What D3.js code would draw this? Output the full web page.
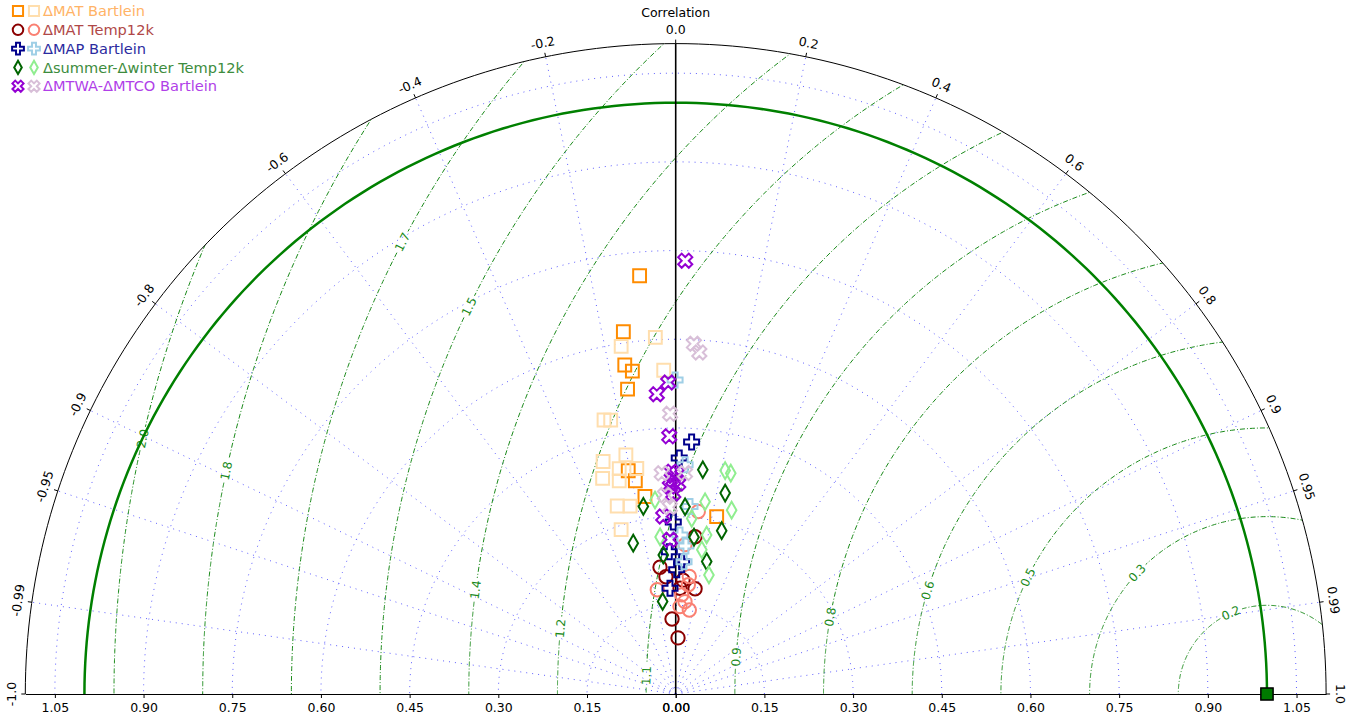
<!DOCTYPE html>
<html>
<head>
<meta charset="utf-8">
<script src="https://cdn.jsdelivr.net/npm/d3@7"></script>
<style>
  body { margin: 0; background: #fff; }
  text { font-family: "DejaVu Sans", sans-serif; }
</style>
</head>
<body>
<svg id="chart" width="1359" height="718"></svg>
<script>
// ---- data (std dev normalised, correlation) ----
const corrTicks = [-1.0, -0.99, -0.95, -0.9, -0.8, -0.6, -0.4, -0.2, 0.0, 0.2, 0.4, 0.6, 0.8, 0.9, 0.95, 0.99, 1.0];
const corrTickLabels = ["-1.0", "-0.99", "-0.95", "-0.9", "-0.8", "-0.6", "-0.4", "-0.2", "0.0", "0.2", "0.4", "0.6", "0.8", "0.9", "0.95", "0.99", "1.0"];
const stdTicks = [0, 0.15, 0.30, 0.45, 0.60, 0.75, 0.90, 1.05];
const rmsLevels = [0.15, 0.30, 0.45, 0.60, 0.75, 0.90, 1.05, 1.20, 1.35, 1.50, 1.65, 1.80, 1.95];
const rmsLabels = ["0.2", "0.3", "0.5", "0.6", "0.8", "0.9", "1.1", "1.2", "1.4", "1.5", "1.7", "1.8", "2.0"];
const refStd = 1.0;
const stdMax = 1.1;

const seriesNames = ["ΔMAT Bartlein", "ΔMAT Temp12k", "ΔMAP Bartlein", "Δsummer-Δwinter Temp12k", "ΔMTWA-ΔMTCO Bartlein"];

const matBartleinStd = [0.710, 0.619, 0.563, 0.551, 0.522, 0.386, 0.367, 0.338, 0.308];
const matBartleinCor = [-0.086, -0.143, -0.153, -0.133, -0.156, -0.208, -0.186, -0.154, 0.225];
const matBartleinAltStd = [0.604, 0.595, 0.548, 0.479, 0.476, 0.412, 0.413, 0.393, 0.387, 0.385, 0.373, 0.333, 0.327, 0.293];
const matBartleinAltCor = [-0.057, -0.155, -0.037, -0.253, -0.231, -0.298, -0.204, -0.243, -0.170, -0.321, -0.256, -0.297, -0.236, -0.315];

const matTempStd = [0.216, 0.199, 0.268, 0.193, 0.181, 0.179, 0.127, 0.095];
const matTempCor = [-0.123, -0.083, 0.122, 0.064, 0.181, 0.041, -0.049, 0.041];
const matTempAltStd = [0.311, 0.253, 0.179, 0.200, 0.186, 0.168, 0.157, 0.148, 0.144];
const matTempAltCor = [0.123, 0.062, -0.174, 0.115, 0.115, 0.061, 0.100, 0.049, 0.160];

const mapStd = [0.427, 0.399, 0.291, 0.241, 0.224, 0.210, 0.179];
const mapCor = [0.063, 0.015, -0.014, -0.045, 0.045, 0.008, -0.054];
const mapAltStd = [0.531, 0.388, 0.318, 0.269, 0.251, 0.224];
const mapAltCor = [-0.002, 0.041, 0.076, 0.027, 0.069, 0.063];

const seasStd = [0.382, 0.350, 0.322, 0.317, 0.265, 0.287, 0.230, 0.236, 0.158, 0.267];
const seasCor = [0.120, 0.239, -0.170, 0.050, -0.271, 0.271, 0.228, -0.089, -0.140, 0.116];
const seasAltStd = [0.387, 0.385, 0.329, 0.325, 0.330, 0.267, 0.298, 0.248, 0.274, 0.209];
const seasAltCor = [0.216, 0.242, 0.151, 0.291, -0.106, -0.099, 0.091, 0.178, 0.191, 0.269];

const mtwaStd = [0.733, 0.527, 0.508, 0.436, 0.376, 0.373, 0.362, 0.356, 0.351, 0.339, 0.301, 0.261];
const mtwaCor = [0.022, -0.024, -0.063, -0.025, -0.018, 0.005, -0.011, 0.012, -0.028, -0.012, -0.070, -0.037];
const mtwaAltStd = [0.593, 0.579, 0.474, 0.374, 0.374, 0.337, 0.316];
const mtwaAltCor = [0.052, 0.069, -0.020, -0.063, 0.042, -0.054, -0.031];

// ---- layout / styles ----
const svg = d3.select("#chart");
const cx = 675.7, cy = 694, R = 650.4;

const xs = d3.scaleLinear().domain([-stdMax, stdMax]).range([cx - R, cx + R]);
const ys = d3.scaleLinear().domain([0, stdMax]).range([cy, cy - R]);
const rs = d3.scaleLinear().domain([0, stdMax]).range([0, R]);

const polar = (s, c) => {
    let t = Math.acos(c);
    return [xs(s * Math.cos(t)), ys(s * Math.sin(t))];
};
const arcPts = (s, a0, a1) => d3.range(a0, a1 + 0.001, (a1 - a0) / 180).map(a => [xs(s * Math.cos(a)), ys(s * Math.sin(a))]);
const line = d3.line();

const styles = [
    {sym: d3.symbolSquare, size: 165, dark: "#ff8c00", light: "#ffdead", text: "#ffb366"},
    {sym: d3.symbolCircle, size: 140, dark: "#8b0000", light: "#fa8072", text: "#b04848"},
    {sym: d3.symbolCross, size: 125, dark: "#00008b", light: "#9fcfe6", text: "#2b2ba0"},
    {sym: d3.symbolDiamond, size: 80, dark: "#006400", light: "#90ee90", text: "#3d8c3d"},
    {sym: d3.symbolCross, size: 125, rot: 45, dark: "#9400d3", light: "#d8bfd8", text: "#b040e8"}
];
const seriesData = [
    [[matBartleinStd, matBartleinCor], [matBartleinAltStd, matBartleinAltCor]],
    [[matTempStd, matTempCor], [matTempAltStd, matTempAltCor]],
    [[mapStd, mapCor], [mapAltStd, mapAltCor]],
    [[seasStd, seasCor], [seasAltStd, seasAltCor]],
    [[mtwaStd, mtwaCor], [mtwaAltStd, mtwaAltCor]]
];
// angle (deg, around reference point) where each rms label sits
const rmsLabelAngle = [114, 137, 154, 163, 170, 176, 178.3, 174.7, 172.5, 154.1, 152.4, 167.9, 167.2];

// clip for contours
svg.append("clipPath").attr("id", "half")
    .append("path")
    .attr("d", line(arcPts(stdMax, 0, Math.PI)) + "Z");

// std grid arcs + correlation rays
let grid = svg.append("g").attr("fill", "none").attr("stroke", "#3a3aff")
    .attr("stroke-width", 1).attr("stroke-dasharray", "1,5").attr("opacity", 0.8);
grid.selectAll("path.s").data(stdTicks.filter(d => d > 0)).enter().append("path")
    .attr("d", d => line(arcPts(d, 0, Math.PI)));
grid.selectAll("line.c").data(corrTicks.filter(d => Math.abs(d) < 1 && d !== 0)).enter().append("line")
    .attr("x1", cx).attr("y1", cy)
    .attr("x2", d => polar(stdMax, d)[0]).attr("y2", d => polar(stdMax, d)[1]);

// rms contours
let rmsG = svg.append("g").attr("clip-path", "url(#half)");
rmsLevels.forEach((L, i) => {
    let phi = rmsLabelAngle[i] * Math.PI / 180;
    let gap = 12 / rs(L);
    let pts = (a0, a1) => d3.range(a0, a1 + 0.0005, (a1 - a0) / 200)
        .map(a => [xs(refStd + L * Math.cos(a)), ys(L * Math.sin(a))]);
    [[0, phi - gap], [phi + gap, Math.PI]].forEach(seg => {
        rmsG.append("path")
            .attr("d", line(pts(seg[0], seg[1])))
            .attr("fill", "none").attr("stroke", "#1a8a1a").attr("stroke-width", 1)
            .attr("stroke-dasharray", "5,2,1,2");
    });
});
rmsLevels.forEach((L, i) => {
    let phi = rmsLabelAngle[i] * Math.PI / 180;
    svg.append("text")
        .attr("transform", `translate(${xs(refStd + L * Math.cos(phi))},${ys(L * Math.sin(phi))}) rotate(${90 - rmsLabelAngle[i]})`)
        .attr("text-anchor", "middle").attr("dy", "0.35em")
        .attr("font-size", 12).attr("fill", "#1a8a1a")
        .text(rmsLabels[i]);
});

// reference std arc
svg.append("path").attr("d", line(arcPts(refStd, 0, Math.PI)))
    .attr("fill", "none").attr("stroke", "#008000").attr("stroke-width", 2.5);

// outer arc, zero line
svg.append("path").attr("d", line(arcPts(stdMax, 0, Math.PI)))
    .attr("fill", "none").attr("stroke", "#000").attr("stroke-width", 1);
svg.append("line").attr("x1", cx).attr("y1", cy).attr("x2", xs(0)).attr("y2", ys(stdMax))
    .attr("stroke", "#000").attr("stroke-width", 1.6);

// correlation ticks + labels
corrTicks.forEach((c, i) => {
    let t = Math.acos(c);
    let deg = t * 180 / Math.PI;
    svg.append("line")
        .attr("x1", cx + R * Math.cos(t)).attr("y1", cy - R * Math.sin(t))
        .attr("x2", cx + (R + 4) * Math.cos(t)).attr("y2", cy - (R + 4) * Math.sin(t))
        .attr("stroke", "#000");
    svg.append("text")
        .attr("transform", `translate(${cx + (R + 14) * Math.cos(t)},${cy - (R + 14) * Math.sin(t)}) rotate(${90 - deg})`)
        .attr("text-anchor", "middle").attr("dy", "0.35em").attr("font-size", 12.5)
        .text(corrTickLabels[i]);
});
svg.append("text").attr("x", cx).attr("y", 17).attr("text-anchor", "middle")
    .attr("font-size", 12.5).text("Correlation");

// std axis (both sides)
let rightScale = d3.scaleLinear().domain([0, stdMax]).range([cx, cx + R]);
let leftScale = d3.scaleLinear().domain([0, stdMax]).range([cx, cx - R]);
[rightScale, leftScale].forEach(sc => {
    let ax = svg.append("g").attr("transform", `translate(0,${cy})`)
        .call(d3.axisBottom(sc).tickValues(stdTicks).tickFormat(d3.format(".2f")).tickSize(4).tickSizeOuter(0).tickPadding(5));
    ax.selectAll("text").attr("font-size", 12.5).attr("font-family", "DejaVu Sans, sans-serif");
    ax.select(".domain").attr("stroke-width", 1.2);
});

// points
seriesData.forEach((pair, k) => {
    let st = styles[k];
    let sym = d3.symbol().type(st.sym).size(st.size);
    pair.forEach((ser, j) => {
        let pts = ser[0].map((s, n) => polar(s, ser[1][n]));
        svg.append("g").selectAll("path").data(pts).enter().append("path")
            .attr("d", sym)
            .attr("transform", d => `translate(${d[0]},${d[1]})` + (st.rot ? ` rotate(${st.rot})` : ""))
            .attr("fill", "none")
            .attr("stroke", j === 0 ? st.dark : st.light)
            .attr("stroke-width", 2);
    });
});

// reference point
svg.append("path").attr("d", d3.symbol().type(d3.symbolSquare).size(150))
    .attr("transform", `translate(${xs(refStd)},${ys(0)})`)
    .attr("fill", "#007a00").attr("stroke", "#000").attr("stroke-width", 1.5);

// legend
let leg = svg.append("g");
seriesNames.forEach((name, k) => {
    let st = styles[k];
    let y = 11 + k * 18.8;
    let sym = d3.symbol().type(st.sym).size(st.size * 0.62);
    [st.dark, st.light].forEach((col, j) => {
        leg.append("path").attr("d", sym)
            .attr("transform", `translate(${18 + j * 16},${y})` + (st.rot ? ` rotate(${st.rot})` : ""))
            .attr("fill", "none").attr("stroke", col).attr("stroke-width", 2);
    });
    leg.append("text").attr("x", 43).attr("y", y).attr("dy", "0.35em")
        .attr("font-size", 14.6).attr("fill", st.text).text(name);
});
</script>
</body>
</html>
